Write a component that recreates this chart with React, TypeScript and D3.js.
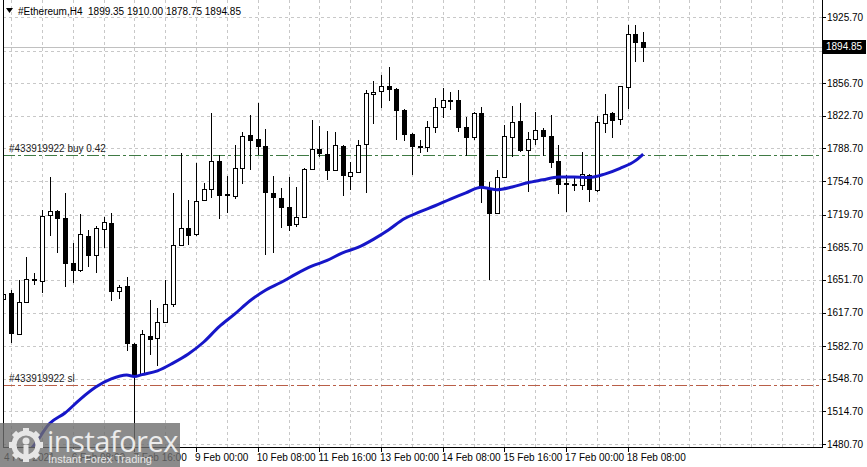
import React from "react";
import * as d3 from "d3";

// #Ethereum H4 — OHLC (bar 0 = 4 Feb 20:00, bar 83 = 18 Feb 16:00)
const opens = [
  1631.8, 1638.0, 1595.3, 1628.7, 1652.6, 1650.6, 1719.3, 1723.5, 1716.2, 1669.3,
  1662.0, 1697.4, 1677.6, 1704.7, 1711.0, 1640.1, 1645.3, 1584.9, 1553.6, 1593.2,
  1591.2, 1607.8, 1626.6, 1688.1, 1705.8, 1699.5, 1735.0, 1746.4, 1775.6, 1741.2,
  1739.1, 1768.3, 1802.7, 1798.5, 1791.2, 1742.2, 1737.0, 1727.7, 1709.9, 1717.2,
  1767.3, 1788.1, 1782.9, 1766.2, 1791.2, 1760.0, 1764.1, 1793.3, 1845.4, 1848.5,
  1853.7, 1850.6, 1828.7, 1803.7, 1791.2, 1790.2, 1811.0, 1831.9, 1838.8, 1839.2,
  1811.0, 1800.6, 1825.6, 1747.5, 1721.4, 1758.9, 1800.6, 1817.3, 1787.0, 1798.5,
  1807.9, 1801.6, 1775.6, 1752.7, 1751.6, 1750.6, 1761.0, 1745.4, 1815.2, 1825.6,
  1819.35, 1852.7, 1907.9, 1899.35,
];
const highs = [
  1669.3, 1641.2, 1651.6, 1675.6, 1659.0, 1724.5, 1758.9, 1724.5, 1742.2, 1690.1,
  1720.4, 1703.7, 1707.9, 1717.2, 1721.4, 1646.4, 1654.7, 1585.9, 1599.5, 1630.8,
  1622.4, 1651.6, 1742.2, 1783.9, 1735.0, 1773.5, 1752.7, 1825.6, 1781.8, 1760.0,
  1792.3, 1805.8, 1823.5, 1836.0, 1808.9, 1760.0, 1747.5, 1758.9, 1748.5, 1768.3,
  1818.3, 1812.1, 1806.9, 1805.8, 1792.3, 1774.6, 1797.5, 1849.6, 1859.0, 1865.2,
  1873.5, 1851.7, 1829.8, 1804.8, 1798.0, 1817.3, 1841.2, 1851.7, 1847.5, 1849.6,
  1821.4, 1826.7, 1831.9, 1753.7, 1766.2, 1813.1, 1832.9, 1836.0, 1805.8, 1826.7,
  1810.0, 1823.5, 1792.3, 1761.0, 1758.0, 1785.0, 1762.0, 1822.5, 1845.4, 1826.7,
  1853.7, 1917.3, 1917.3, 1910.0,
];
const lows = [
  1623.5, 1585.9, 1594.3, 1627.6, 1646.0, 1638.0, 1697.4, 1679.7, 1644.3, 1648.5,
  1659.9, 1665.1, 1658.9, 1684.9, 1629.7, 1631.8, 1577.6, 1477.6, 1552.6, 1573.4,
  1562.0, 1606.8, 1623.5, 1687.0, 1688.1, 1697.4, 1733.9, 1737.0, 1715.2, 1721.4,
  1736.0, 1751.6, 1766.2, 1781.8, 1677.6, 1679.7, 1705.8, 1702.7, 1706.8, 1716.2,
  1766.2, 1779.8, 1755.8, 1765.2, 1739.1, 1745.4, 1763.1, 1742.2, 1814.1, 1830.8,
  1838.1, 1797.5, 1796.4, 1761.0, 1784.0, 1785.0, 1804.8, 1820.4, 1828.7, 1805.8,
  1780.8, 1797.5, 1731.8, 1651.6, 1720.4, 1757.9, 1779.8, 1785.0, 1743.3, 1792.3,
  1780.8, 1768.3, 1741.2, 1722.5, 1744.0, 1745.4, 1732.9, 1743.3, 1804.8, 1799.6,
  1813.1, 1829.8, 1878.7, 1878.75,
];
const closes = [
  1637.0, 1596.4, 1628.7, 1652.6, 1651.6, 1718.3, 1723.5, 1716.2, 1669.3, 1662.0,
  1699.5, 1677.6, 1705.8, 1712.0, 1640.1, 1644.3, 1585.9, 1553.6, 1595.3, 1590.1,
  1607.8, 1626.6, 1688.1, 1705.8, 1698.5, 1733.9, 1746.4, 1775.6, 1740.2, 1740.2,
  1768.3, 1801.6, 1797.5, 1791.2, 1743.3, 1738.1, 1727.7, 1708.9, 1717.2, 1767.3,
  1788.1, 1783.9, 1766.2, 1792.3, 1761.0, 1764.1, 1792.3, 1846.4, 1847.5, 1853.7,
  1850.6, 1828.7, 1803.7, 1791.2, 1790.6, 1811.0, 1831.9, 1839.2, 1839.4, 1811.0,
  1800.6, 1825.6, 1748.5, 1721.4, 1758.9, 1801.6, 1816.2, 1787.0, 1798.5, 1807.9,
  1801.6, 1774.6, 1751.6, 1751.6, 1751.0, 1762.0, 1746.4, 1816.2, 1824.6, 1818.3,
  1853.7, 1907.9, 1899.6, 1894.85,
];

// moving average (blue), read at bar indices
const maBars = [3, 4, 6, 8, 10, 12, 14, 16, 17, 18, 20, 22, 24, 26, 28, 30, 32, 34, 36, 38, 40, 42, 44, 46, 48, 50, 52, 54, 56, 58, 60, 62, 63, 64, 66, 68, 70, 72, 74, 76, 78, 80, 82, 83];
const maValues = [1470, 1479.5, 1502, 1513, 1527.5, 1540, 1548.5, 1552.6, 1551, 1553, 1557, 1565, 1574.5, 1587, 1603, 1616, 1630, 1641, 1649, 1658, 1666, 1672, 1680, 1685.5, 1694, 1704, 1715.5, 1722.5, 1729, 1736, 1742.5, 1748.4, 1747, 1745.6, 1748.5, 1753, 1756, 1758.9, 1759, 1758.5, 1762, 1768, 1776, 1782.9];

const priceTicks = [1925.7, 1890.7, 1856.7, 1822.7, 1788.7, 1754.7, 1719.7, 1685.7, 1651.7, 1617.7, 1582.7, 1548.7, 1514.7, 1480.7];

const timeBars = [0, 9, 17, 25, 33, 41, 49, 57, 65, 73, 81];
const timeLabels = ["4 Feb 2021", "6 Feb 08:00", "7 Feb 16:00", "9 Feb 00:00", "10 Feb 08:00", "11 Feb 16:00", "13 Feb 00:00", "14 Feb 08:00", "15 Feb 16:00", "17 Feb 00:00", "18 Feb 08:00"];

const symbol = "#Ethereum,H4";
const lastOhlc = [1899.35, 1910.0, 1878.75, 1894.85];
const buyLabel = "#433919922 buy 0.42";
const buyPrice = 1781.8;
const slLabel = "#433919922 sl";
const slPrice = 1542.7;

const W = 867;
const H = 467;
const L = 3;
const R = 822;
const B = 447;
const FONT = "'Liberation Sans', Arial, sans-serif";

const px = (v: number) => Math.round(v) + 0.5;

export default function App() {
  const x = d3.scaleLinear().domain([0, 83]).range([3.3, 643.2]);
  const y = d3.scaleLinear().domain([1480.7, 1925.7]).range([444, 17]);

  const gridBars = d3.range(1, 106, 4);
  const lastPrice = lastOhlc[3];

  const maLine = d3
    .line<number>()
    .x((_d, i) => x(maBars[i]))
    .y((d) => y(d))
    .curve(d3.curveMonotoneX);

  return (
    <svg
      width={W}
      height={H}
      style={{ position: "absolute", left: 0, top: 0, background: "#fff" }}
      fontFamily={FONT}
    >
      <defs>
        <clipPath id="plot">
          <rect x={L + 1} y={0} width={R - L - 1} height={B} />
        </clipPath>
      </defs>

      {/* grid */}
      <g stroke="#c8c8c8" strokeDasharray="3 3" strokeWidth={1}>
        {priceTicks.map((t) => (
          <line key={t} x1={L} x2={R} y1={px(y(t))} y2={px(y(t))} />
        ))}
        {gridBars.map((b) => (
          <line key={b} x1={px(x(b))} x2={px(x(b))} y1={0} y2={B} />
        ))}
      </g>

      {/* bid line */}
      <line x1={L} x2={R} y1={px(y(lastPrice))} y2={px(y(lastPrice))} stroke="#c0c0c0" />

      {/* order levels */}
      <line x1={L} x2={R} y1={px(y(buyPrice))} y2={px(y(buyPrice))} stroke="#3f7a44" strokeDasharray="12 3 3 3" />
      <line x1={L} x2={R} y1={px(y(slPrice))} y2={px(y(slPrice))} stroke="#b95f48" strokeDasharray="12 3 3 3" />
      <text x={9} y={y(buyPrice) - 3} fontSize={10} fill="#222">{buyLabel}</text>
      <text x={9} y={y(slPrice) - 3} fontSize={10} fill="#222">{slLabel}</text>

      {/* candles */}
      <g clipPath="url(#plot)">
        {opens.map((o, i) => {
          const c = closes[i];
          const cx = Math.round(x(i));
          const top = Math.round(y(Math.max(o, c)));
          const bot = Math.round(y(Math.min(o, c)));
          const up = c >= o;
          return (
            <g key={i}>
              <line x1={cx + 0.5} x2={cx + 0.5} y1={Math.round(y(highs[i]))} y2={Math.round(y(lows[i]))} stroke="#000" />
              <rect
                x={cx - 1.5}
                y={top + 0.5}
                width={4}
                height={Math.max(bot - top, 1)}
                fill={up ? "#fff" : "#000"}
                stroke="#000"
              />
            </g>
          );
        })}
        <path d={maLine(maValues) || ""} fill="none" stroke="#1616c8" strokeWidth={3} strokeLinejoin="round" />
      </g>

      {/* frame */}
      <line x1={L + 0.5} x2={L + 0.5} y1={0} y2={B} stroke="#000" />
      <line x1={L} x2={R} y1={B + 0.5} y2={B + 0.5} stroke="#000" />
      <line x1={R + 0.5} x2={R + 0.5} y1={0} y2={B + 1} stroke="#000" />

      {/* price axis */}
      {priceTicks.map((t) => (
        <g key={t}>
          <line x1={R} x2={R + 4} y1={px(y(t))} y2={px(y(t))} stroke="#000" />
          <text x={R + 5} y={y(t) + 3.5} fontSize={10} fill="#000">
            {t.toFixed(2)}
          </text>
        </g>
      ))}
      <rect x={R + 1} y={Math.round(y(lastPrice)) - 7} width={43} height={14} fill="#000" />
      <text x={R + 4} y={y(lastPrice) + 3.5} fontSize={10} fill="#fff">
        {lastPrice.toFixed(2)}
      </text>

      {/* time axis */}
      {timeBars.map((b, i) => (
        <g key={b}>
          {i > 0 && <line x1={px(x(b))} x2={px(x(b))} y1={B} y2={B + 5} stroke="#000" />}
          <text x={i === 0 ? 4 : x(b) - 1} y={461} fontSize={10} fill="#000">
            {timeLabels[i]}
          </text>
        </g>
      ))}

      {/* header */}
      <path d="M6,8 L13,8 L9.5,13 Z" fill="#000" />
      <text x={18} y={15} fontSize={10} fill="#000" style={{ whiteSpace: "pre" }}>
        {symbol + "  " + lastOhlc.map((v) => v.toFixed(2)).join(" ")}
      </text>

      {/* watermark */}
      <g>
        <rect x={0} y={423} width={180} height={44} fill="#6e6e6e" opacity={0.8} />
        <g transform="translate(26,445)" fill="#e6e6e6">
          {d3.range(8).map((k) => (
            <rect key={k} x={-3} y={-17} width={6} height={7} transform={`rotate(${k * 45})`} />
          ))}
          <circle r={12} fill="none" stroke="#e6e6e6" strokeWidth={5} />
          <circle cy={-4} r={3.5} />
          <rect x={-2.5} y={0} width={5} height={10} />
        </g>
        <text x={47} y={452} fontSize={29} fill="#ececec" fontFamily="'Open Sans', sans-serif" letterSpacing={-0.5}>
          instaforex
        </text>
        <text x={48} y={463} fontSize={11} fill="#e8e8e8">
          Instant Forex Trading
        </text>
      </g>
    </svg>
  );
}
